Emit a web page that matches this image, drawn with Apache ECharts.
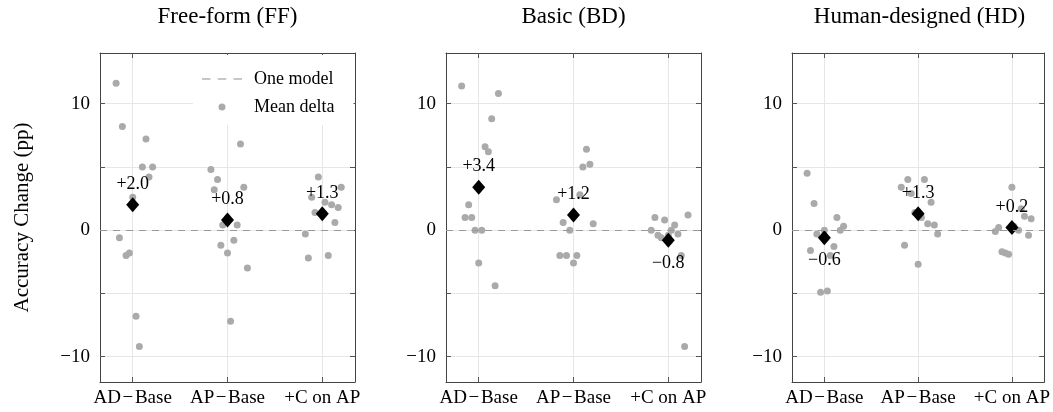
<!DOCTYPE html>
<html>
<head>
<meta charset="utf-8">
<script src="https://cdn.jsdelivr.net/npm/echarts@6/dist/echarts.min.js"></script>
<style>
  html, body { margin: 0; padding: 0; background: #fff; }
  #chart { width: 1053px; height: 412px; }
</style>
</head>
<body>
<div id="chart"></div>
<script>
// categories and panel titles
const categories = ['AD\u200A\u2212\u200ABase', 'AP\u200A\u2212\u200ABase', '+C on AP'];
const panelTitles = ['Free-form (FF)', 'Basic (BD)', 'Human-designed (HD)'];
const yTicks = [-10, -5, 0, 5, 10];
const yLabels = [-10, 0, 10];

// per-model deltas: [jitter offset from category, value]
const ffAD = [[-0.175, 11.6], [-0.109, 8.2], [0.14, 7.2], [0.102, 5.0], [0.21, 5.0], [0.172, 4.2], [0, 2.6], [-0.14, -0.6], [-0.07, -2.0], [-0.035, -1.8], [0.035, -6.8], [0.07, -9.2]];
const ffAP = [[0.137, 6.8], [-0.175, 4.8], [-0.105, 4.0], [-0.14, 3.2], [0.172, 3.4], [-0.05, 0.4], [0.102, 0.4], [-0.07, -1.2], [0, -1.8], [0.067, -0.8], [0.21, -3.0], [0.032, -7.2]];
const ffC = [[-0.042, 4.2], [0.2, 3.4], [-0.112, 2.6], [0.028, 2.2], [0.098, 2.0], [0.168, 1.8], [-0.077, 1.4], [0.133, 0.6], [-0.179, -0.3], [-0.147, -2.2], [0.063, -2.0], [0, 1.3]];
const bdAD = [[-0.18, 11.4], [0.208, 10.8], [0.137, 8.8], [0.067, 6.6], [0.102, 6.2], [-0.106, 2.0], [-0.144, 1.0], [-0.074, 1.0], [-0.039, 0], [0.032, 0], [0, -2.6], [0.173, -4.4]];
const bdAP = [[0.137, 6.4], [0.099, 5.0], [0.173, 5.2], [0.067, 2.8], [-0.18, 2.4], [-0.109, 0.6], [0.208, 0.5], [-0.039, 0], [-0.144, -2.0], [-0.074, -2.0], [0.035, -2.0], [0, -2.6]];
const bdC = [[0.208, 1.2], [-0.141, 1.0], [-0.039, 0.8], [0.067, 0.4], [-0.18, 0], [-0.109, -0.4], [-0.074, -0.6], [0.102, -0.3], [0.032, 0], [0.137, -2.0], [0.172, -9.2], [0, -0.4]];
const hdAD = [[-0.184, 4.5], [-0.11, 2.1], [0.134, 1.0], [0.205, 0.3], [0.17, 0], [0, 0], [-0.08, -0.3], [0.102, -1.3], [-0.148, -1.6], [0.064, -2.0], [-0.04, -4.9], [0.032, -4.8]];
const hdAP = [[-0.11, 4.0], [0.067, 4.0], [-0.18, 3.4], [-0.074, 2.9], [0.138, 2.2], [-0.035, 1.4], [0.035, 1.0], [0.102, 0.5], [0.173, 0.4], [0.208, -0.3], [-0.145, -1.2], [0, -2.7]];
const hdC = [[0, 3.4], [0.099, 1.7], [0.134, 1.1], [0.205, 0.9], [-0.141, 0.2], [-0.177, -0.1], [0.071, 0], [0.177, -0.4], [-0.106, -1.7], [-0.071, -1.8], [-0.035, -1.9], [0.02, 0.3]];

// mean deltas per category
const ffMeans = [2.0, 0.8, 1.3];
const bdMeans = [3.4, 1.2, -0.8];
const hdMeans = [-0.6, 1.3, 0.2];

const panels = [
    { points: [ffAD, ffAP, ffC], means: ffMeans },
    { points: [bdAD, bdAP, bdC], means: bdMeans },
    { points: [hdAD, hdAP, hdC], means: hdMeans }
];

const FONT = 'Liberation Serif';
const gridLefts = [100, 446, 792];
const gridWidth = 255;

const fmtNum = (v) => v < 0 ? '\u2212' + Math.abs(v) : String(v);
const fmtMean = (v) => v < 0 ? '\u2212' + Math.abs(v).toFixed(1) : '+' + v.toFixed(1);

const frameLine = { show: true, onZero: false, lineStyle: { color: '#444', width: 1 } };

let grids = [], xAxes = [], yAxes = [], series = [], titles = [];

panels.forEach((p, i) => {
    grids.push({ left: gridLefts[i], top: 53, width: gridWidth, height: 329 });
    titles.push({
        text: panelTitles[i],
        left: gridLefts[i] + gridWidth / 2,
        top: 4,
        padding: 0,
        textAlign: 'center',
        textStyle: { fontFamily: FONT, fontSize: 23, fontWeight: 'normal', color: '#000', lineHeight: 26 }
    });
    // bottom x axis
    xAxes.push({
        type: 'value', gridIndex: i, min: -0.345, max: 2.345,
        axisLine: frameLine,
        axisTick: { show: true, inside: true, length: 5, customValues: [0, 1, 2], lineStyle: { color: '#555' } },
        axisLabel: {
            customValues: [0, 1, 2], margin: 7,
            formatter: (v) => categories[Math.round(v)],
            fontFamily: FONT, fontSize: 19, color: '#000'
        },
        splitLine: { show: true, lineStyle: { color: '#e6e6e6', width: 1 } }
    });
    // top x axis (mirror ticks)
    xAxes.push({
        type: 'value', gridIndex: i, position: 'top', min: -0.345, max: 2.345,
        axisLine: frameLine,
        axisTick: { show: true, inside: true, length: 5, customValues: [0, 1, 2], lineStyle: { color: '#555' } },
        axisLabel: { show: false },
        splitLine: { show: false }
    });
    // left y axis
    yAxes.push({
        type: 'value', gridIndex: i, min: -12, max: 14,
        name: i === 0 ? 'Accuracy Change (pp)' : '',
        nameLocation: 'middle', nameRotate: 90, nameGap: 67,
        nameTextStyle: { fontFamily: FONT, fontSize: 21, color: '#000' },
        axisLine: frameLine,
        axisTick: { show: true, inside: true, length: 5, customValues: yTicks, lineStyle: { color: '#555' } },
        axisLabel: {
            customValues: yLabels, margin: 10,
            formatter: fmtNum,
            fontFamily: FONT, fontSize: 19, color: '#000'
        },
        splitLine: { show: true, lineStyle: { color: '#e6e6e6', width: 1 } }
    });
    // right y axis (mirror ticks)
    yAxes.push({
        type: 'value', gridIndex: i, position: 'right', min: -12, max: 14,
        axisLine: frameLine,
        axisTick: { show: true, inside: true, length: 5, customValues: yTicks, lineStyle: { color: '#555' } },
        axisLabel: { show: false },
        splitLine: { show: false }
    });

    // zero reference line
    series.push({
        name: 'One model', type: 'line', xAxisIndex: i * 2, yAxisIndex: i * 2,
        data: [], symbol: 'none',
        lineStyle: { color: '#8f8f8f', width: 1, type: [7, 6] },
        itemStyle: { color: '#8f8f8f' },
        markLine: {
            silent: true, symbol: 'none', label: { show: false },
            lineStyle: { color: '#999', width: 1, type: [7, 6] },
            data: [{ yAxis: 0 }]
        },
        z: 1
    });

    // individual model points
    let pts = [];
    p.points.forEach((arr, c) => {
        arr.forEach((d) => pts.push([c + d[0], d[1]]));
    });
    series.push({
        name: 'Mean delta', type: 'scatter', xAxisIndex: i * 2, yAxisIndex: i * 2,
        data: pts, symbol: 'circle', symbolSize: 7,
        itemStyle: { color: '#aaaaaa', opacity: 1 },
        z: 2
    });

    // means
    series.push({
        name: 'Mean', type: 'scatter', xAxisIndex: i * 2, yAxisIndex: i * 2,
        symbol: 'diamond', symbolSize: [13, 15],
        itemStyle: { color: '#000', opacity: 1 },
        data: p.means.map((m, c) => ({
            value: [c, m],
            label: {
                show: true,
                position: m < 0 ? 'bottom' : 'top',
                distance: m < 0 ? 6 : 4,
                formatter: fmtMean(m),
                fontFamily: FONT, fontSize: 18, color: '#000'
            }
        })),
        z: 3
    });
});

const chart = echarts.init(document.getElementById('chart'), null, { renderer: 'canvas' });
chart.setOption({
    animation: false,
    backgroundColor: '#fff',
    title: titles,
    grid: grids,
    xAxis: xAxes,
    yAxis: yAxes,
    legend: {
        data: [
            { name: 'One model', icon: 'path://M0,0H7V1H0Z M13,0H20V1H13Z M26,0H33V1H26Z' },
            { name: 'Mean delta', icon: 'circle' }
        ],
        orient: 'vertical',
        left: 193, top: 55,
        padding: [14, 19, 8, 9],
        itemWidth: 40, itemHeight: 7, itemGap: 8,
        backgroundColor: '#fff',
        selectedMode: false,
        textStyle: { fontFamily: FONT, fontSize: 18, color: '#000', lineHeight: 20, padding: [0, 0, 0, 7] }
    },
    series: series
});
</script>
</body>
</html>
